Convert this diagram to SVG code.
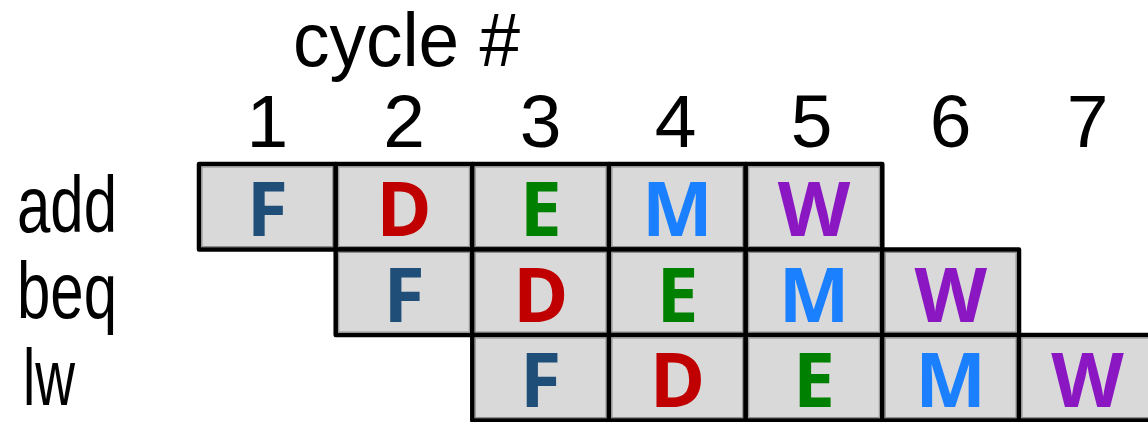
<svg xmlns="http://www.w3.org/2000/svg" width="1148" height="422" viewBox="0 0 1148 422">
<style>
.bg{fill:#ffffff}
.cell{fill:#d9d9d9;stroke:#000000;stroke-width:4.5;stroke-linejoin:round}
.inner{fill:none;stroke:#8c8c8c;stroke-width:1}
.st{font-family:"Open Sans","Liberation Sans",sans-serif;font-weight:700;font-size:75px;text-anchor:middle}
.F{fill:#1f4e79}.D{fill:#c00000}.E{fill:#008000}.M{fill:#1a80ff}.W{fill:#8b17c3}
.hd{font-family:"Liberation Sans",Arial,sans-serif;font-size:76px;fill:#000}
.num{font-family:"Liberation Sans",Arial,sans-serif;font-size:75px;fill:#000;text-anchor:middle}
.lbl{font-family:"Liberation Sans",Arial,sans-serif;font-size:80px;fill:#000}
</style>
<rect class="bg" x="0" y="0" width="1148" height="422"/>
<g id="header">
<text class="hd" x="293" y="66" textLength="227" lengthAdjust="spacingAndGlyphs">cycle #</text>
<text class="num" x="267.4" y="147">1</text>
<text class="num" x="404" y="147">2</text>
<text class="num" x="540.7" y="147">3</text>
<text class="num" x="675.5" y="147">4</text>
<text class="num" x="811.5" y="147">5</text>
<text class="num" x="950.5" y="147">6</text>
<text class="num" x="1087.5" y="147">7</text>
</g>
<g id="labels">
<text id="lbl-add" class="lbl" x="17" y="232" textLength="100" lengthAdjust="spacingAndGlyphs">add</text>
<text id="lbl-beq" class="lbl" x="17" y="318" textLength="100" lengthAdjust="spacingAndGlyphs">beq</text>
<text id="lbl-lw" class="lbl" x="23" y="405" textLength="52" lengthAdjust="spacingAndGlyphs">lw</text>
</g>
<g id="connectors"></g>
<!-- row add -->
<g id="add-F"><rect class="cell" x="199" y="164" width="136.7" height="85.5"/><rect class="inner" x="202" y="167" width="130.7" height="79.5"/><text class="st F" x="267.4" y="236">F</text></g>
<g id="add-D"><rect class="cell" x="335.7" y="164" width="136.6" height="85.5"/><rect class="inner" x="338.7" y="167" width="130.6" height="79.5"/><text class="st D" x="404" y="236">D</text></g>
<g id="add-E"><rect class="cell" x="472.3" y="164" width="136.7" height="85.5"/><rect class="inner" x="475.3" y="167" width="130.7" height="79.5"/><text class="st E" x="540.7" y="236">E</text></g>
<g id="add-M"><rect class="cell" x="609" y="164" width="136.7" height="85.5"/><rect class="inner" x="612" y="167" width="130.7" height="79.5"/><text class="st M" x="677.4" y="236">M</text></g>
<g id="add-W"><rect class="cell" x="745.7" y="164" width="136.6" height="85.5"/><rect class="inner" x="748.7" y="167" width="130.6" height="79.5"/><text class="st W" x="814" y="236">W</text></g>
<!-- row beq -->
<g id="beq-F"><rect class="cell" x="335.7" y="249.5" width="136.6" height="85.5"/><rect class="inner" x="338.7" y="252.5" width="130.6" height="79.5"/><text class="st F" x="404" y="321.5">F</text></g>
<g id="beq-D"><rect class="cell" x="472.3" y="249.5" width="136.7" height="85.5"/><rect class="inner" x="475.3" y="252.5" width="130.7" height="79.5"/><text class="st D" x="540.7" y="321.5">D</text></g>
<g id="beq-E"><rect class="cell" x="609" y="249.5" width="136.7" height="85.5"/><rect class="inner" x="612" y="252.5" width="130.7" height="79.5"/><text class="st E" x="677.4" y="321.5">E</text></g>
<g id="beq-M"><rect class="cell" x="745.7" y="249.5" width="136.6" height="85.5"/><rect class="inner" x="748.7" y="252.5" width="130.6" height="79.5"/><text class="st M" x="814" y="321.5">M</text></g>
<g id="beq-W"><rect class="cell" x="882.3" y="249.5" width="136.7" height="85.5"/><rect class="inner" x="885.3" y="252.5" width="130.7" height="79.5"/><text class="st W" x="950.7" y="321.5">W</text></g>
<!-- row lw -->
<g id="lw-F"><rect class="cell" x="472.3" y="335" width="136.7" height="85.5"/><rect class="inner" x="475.3" y="338" width="130.7" height="79.5"/><text class="st F" x="540.7" y="407">F</text></g>
<g id="lw-D"><rect class="cell" x="609" y="335" width="136.7" height="85.5"/><rect class="inner" x="612" y="338" width="130.7" height="79.5"/><text class="st D" x="677.4" y="407">D</text></g>
<g id="lw-E"><rect class="cell" x="745.7" y="335" width="136.6" height="85.5"/><rect class="inner" x="748.7" y="338" width="130.6" height="79.5"/><text class="st E" x="814" y="407">E</text></g>
<g id="lw-M"><rect class="cell" x="882.3" y="335" width="136.7" height="85.5"/><rect class="inner" x="885.3" y="338" width="130.7" height="79.5"/><text class="st M" x="950.7" y="407">M</text></g>
<g id="lw-W"><rect class="cell" x="1019" y="335" width="136.7" height="85.5"/><rect class="inner" x="1022" y="338" width="130.7" height="79.5"/><text class="st W" x="1087.4" y="407">W</text></g>
</svg>
